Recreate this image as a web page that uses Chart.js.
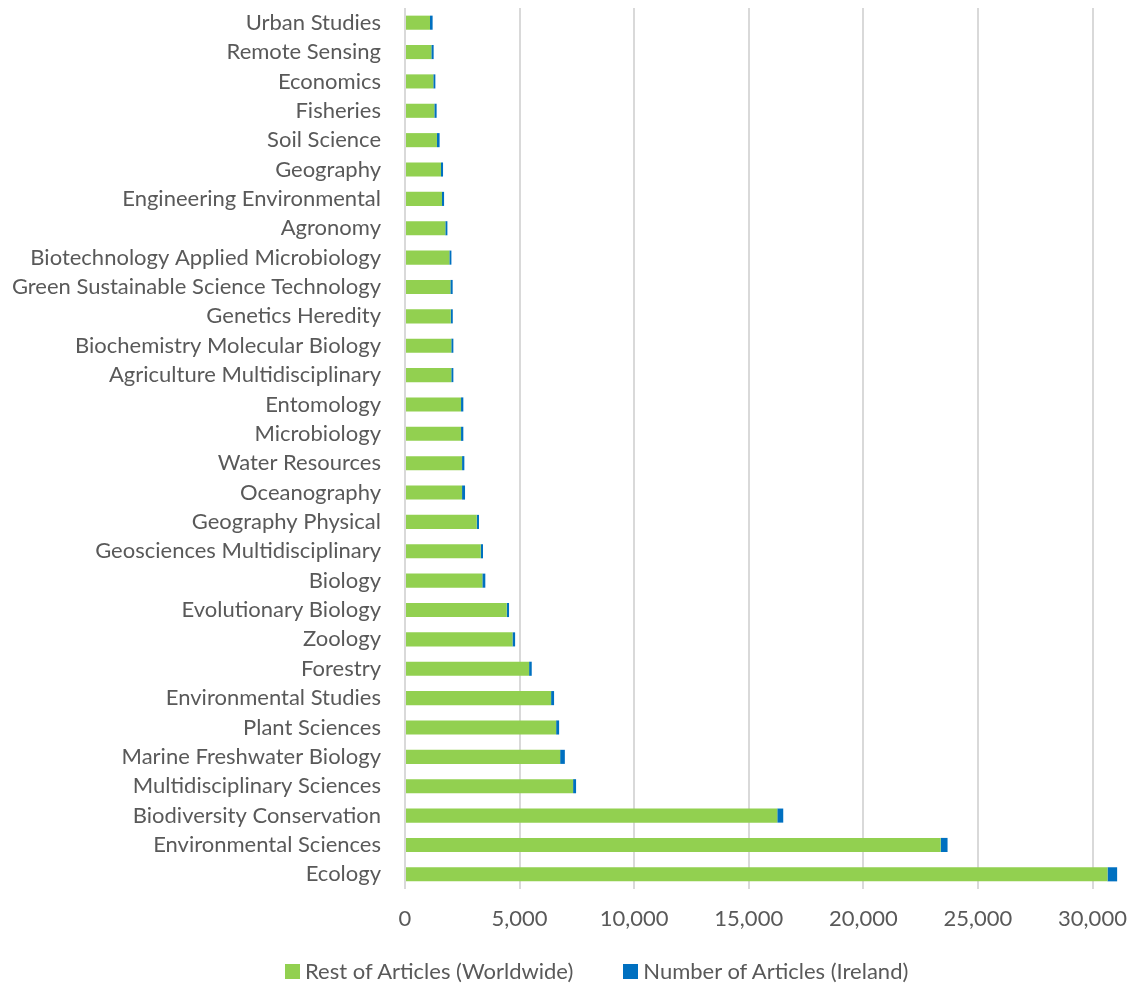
<!DOCTYPE html>
<html>
<head>
<meta charset="utf-8">
<script src="https://cdn.jsdelivr.net/npm/chart.js@4/dist/chart.umd.min.js"></script>
<style>
  html, body { margin: 0; padding: 0; background: #fff; overflow: hidden; }
  #wrap { width: 1131px; height: 985px; position: relative; }
  #legend {
    position: absolute; left: 285px; top: 958px;
    display: flex; align-items: center;
    font-family: Lato, "Open Sans", sans-serif; font-size: 22px; line-height: 26px;
    color: #595959; white-space: nowrap;
  }
  #legend .item { display: flex; align-items: center; margin-right: 50px; }
  #legend .box { width: 15px; height: 15px; margin-right: 5px; }
</style>
</head>
<body>
<div id="wrap">
  <canvas id="subjectChart"></canvas>
  <div id="legend"></div>
</div>
<script>
// subject categories, top to bottom
var categories = [
    "Urban Studies", "Remote Sensing", "Economics", "Fisheries", "Soil Science",
    "Geography", "Engineering Environmental", "Agronomy",
    "Biotechnology Applied Microbiology", "Green Sustainable Science Technology",
    "Genetics Heredity", "Biochemistry Molecular Biology", "Agriculture Multidisciplinary",
    "Entomology", "Microbiology", "Water Resources", "Oceanography",
    "Geography Physical", "Geosciences Multidisciplinary", "Biology",
    "Evolutionary Biology", "Zoology", "Forestry", "Environmental Studies",
    "Plant Sciences", "Marine Freshwater Biology", "Multidisciplinary Sciences",
    "Biodiversity Conservation", "Environmental Sciences", "Ecology"
];

var restWorldwide = [
    1090, 1150, 1235, 1280, 1395,
    1570, 1615, 1760,
    1935, 1980,
    1995, 2020, 2020,
    2445, 2445, 2490, 2490,
    3130, 3305, 3375,
    4440, 4690, 5415, 6375,
    6595, 6770, 7335,
    16245, 23375, 30655
];

var ireland = [
    115, 100, 90, 100, 115,
    90, 90, 90,
    90, 100,
    90, 90, 90,
    100, 100, 100, 130,
    100, 100, 130,
    100, 115, 115, 130,
    130, 205, 130,
    260, 300, 420
];

var xTicks = [0, 5000, 10000, 15000, 20000, 25000, 30000];
var xMax = 31200;

var textColor = "#595959";
var gridColor = "#d9d9d9";
var fontFamily = "Lato, 'Open Sans', sans-serif";

// legend built as html under the canvas, from the chart's own legend items
var htmlLegend = {
    id: "htmlLegend",
    afterUpdate: function (chart) {
        var box = document.getElementById("legend");
        box.innerHTML = "";
        var items = chart.options.plugins.legend.labels.generateLabels(chart);
        items.forEach(function (item) {
            var el = document.createElement("div");
            el.className = "item";
            var sw = document.createElement("span");
            sw.className = "box";
            sw.style.background = item.fillStyle;
            var tx = document.createElement("span");
            tx.textContent = item.text;
            el.appendChild(sw);
            el.appendChild(tx);
            box.appendChild(el);
        });
    }
};

document.addEventListener("DOMContentLoaded", function () {
    var ctx = document.getElementById("subjectChart").getContext("2d");
    var subjectChart = new Chart(ctx, {
        type: "bar",
        data: {
            labels: categories,
            datasets: [{
                label: "Rest of Articles (Worldwide)",
                data: restWorldwide,
                backgroundColor: "#92d050",
                barPercentage: 0.48,
                categoryPercentage: 1
            }, {
                label: "Number of Articles (Ireland)",
                data: ireland,
                backgroundColor: "#0070c0",
                barPercentage: 0.48,
                categoryPercentage: 1
            }]
        },
        options: {
            indexAxis: "y",
            responsive: true,
            maintainAspectRatio: false,
            animation: false,
            layout: { padding: { left: 8, right: 11, top: 8, bottom: 49 } },
            scales: {
                x: {
                    stacked: true,
                    min: 0,
                    max: xMax,
                    afterBuildTicks: function (scale) {
                        scale.ticks = xTicks.map(function (v) { return { value: v }; });
                    },
                    afterFit: function (scale) {
                        scale.height = 47;
                        scale.paddingLeft = 0;
                        scale.paddingRight = 0;
                    },
                    ticks: {
                        autoSkip: false,
                        maxRotation: 0,
                        color: textColor,
                        padding: 17,
                        font: { family: fontFamily, size: 22 }
                    },
                    grid: { color: gridColor, lineWidth: 2, drawTicks: false },
                    border: { display: false }
                },
                y: {
                    stacked: true,
                    afterFit: function (scale) {
                        scale.width = 397;
                        scale.paddingTop = 0;
                        scale.paddingBottom = 0;
                    },
                    ticks: {
                        color: textColor,
                        padding: 24,
                        autoSkip: false,
                        font: { family: fontFamily, size: 22 }
                    },
                    grid: { display: false, drawTicks: false },
                    border: { display: false }
                }
            },
            plugins: {
                legend: { display: false },
                tooltip: { enabled: false }
            }
        },
        plugins: [htmlLegend]
    });
});
</script>
</body>
</html>
